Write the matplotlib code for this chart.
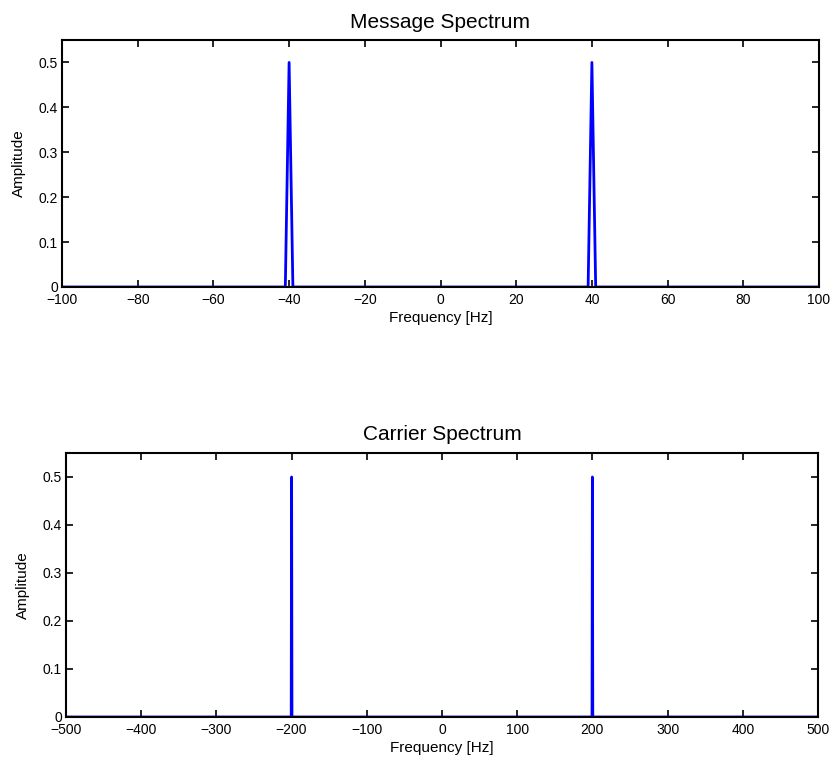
import numpy as np
import matplotlib.pyplot as plt

plt.rcParams['font.family'] = ['Liberation Sans', 'DejaVu Sans']

# message spectrum: tones at +/-40 Hz, 1 Hz bins
msg_freq = [-100, -41, -40, -39, 39, 40, 41, 100]
msg_amp = [0, 0, 0.5, 0, 0, 0.5, 0, 0]

# carrier spectrum: tones at +/-200 Hz, fine bins
car_freq = [-500, -200.5, -200, -199.5, 199.5, 200, 200.5, 500]
car_amp = [0, 0, 0.5, 0, 0, 0.5, 0, 0]

y_ticks = [0, 0.1, 0.2, 0.3, 0.4, 0.5]


def style(ax, xlim, xticks, title):
    ax.set_xlim(xlim)
    ax.set_ylim(0, 0.55)
    ax.set_xticks(xticks)
    ax.set_yticks(y_ticks)
    ax.set_yticklabels([str(v) if v else '0' for v in y_ticks])
    ax.set_xticklabels([str(v).replace('-', '\u2212') for v in xticks])
    ax.tick_params(direction='in', top=True, right=True, length=5, width=1.2, labelsize=10)
    ax.tick_params(axis='x', pad=4)
    ax.tick_params(axis='y', pad=3)
    for s in ax.spines.values():
        s.set_linewidth(1.5)
    ax.set_title(title, fontsize=15, pad=9)
    ax.set_xlabel('Frequency [Hz]', fontsize=11, labelpad=3)
    ax.set_ylabel('Amplitude', fontsize=11, labelpad=9)


def main():
    fig = plt.figure(figsize=(8.33, 7.65), dpi=100)
    ax1 = fig.add_axes([62 / 833, 1 - 287 / 765, 757 / 833, 247 / 765])
    ax2 = fig.add_axes([66 / 833, 1 - 717 / 765, 752 / 833, 264 / 765])

    ax1.plot(msg_freq, msg_amp, color='#0000ff', lw=2)
    style(ax1, (-100, 100), list(range(-100, 101, 20)), 'Message Spectrum')

    ax2.plot(car_freq, car_amp, color='#0000ff', lw=2)
    style(ax2, (-500, 500), list(range(-500, 501, 100)), 'Carrier Spectrum')

    fig.savefig('out.png', dpi=100)


if __name__ == "__main__":
    main()
